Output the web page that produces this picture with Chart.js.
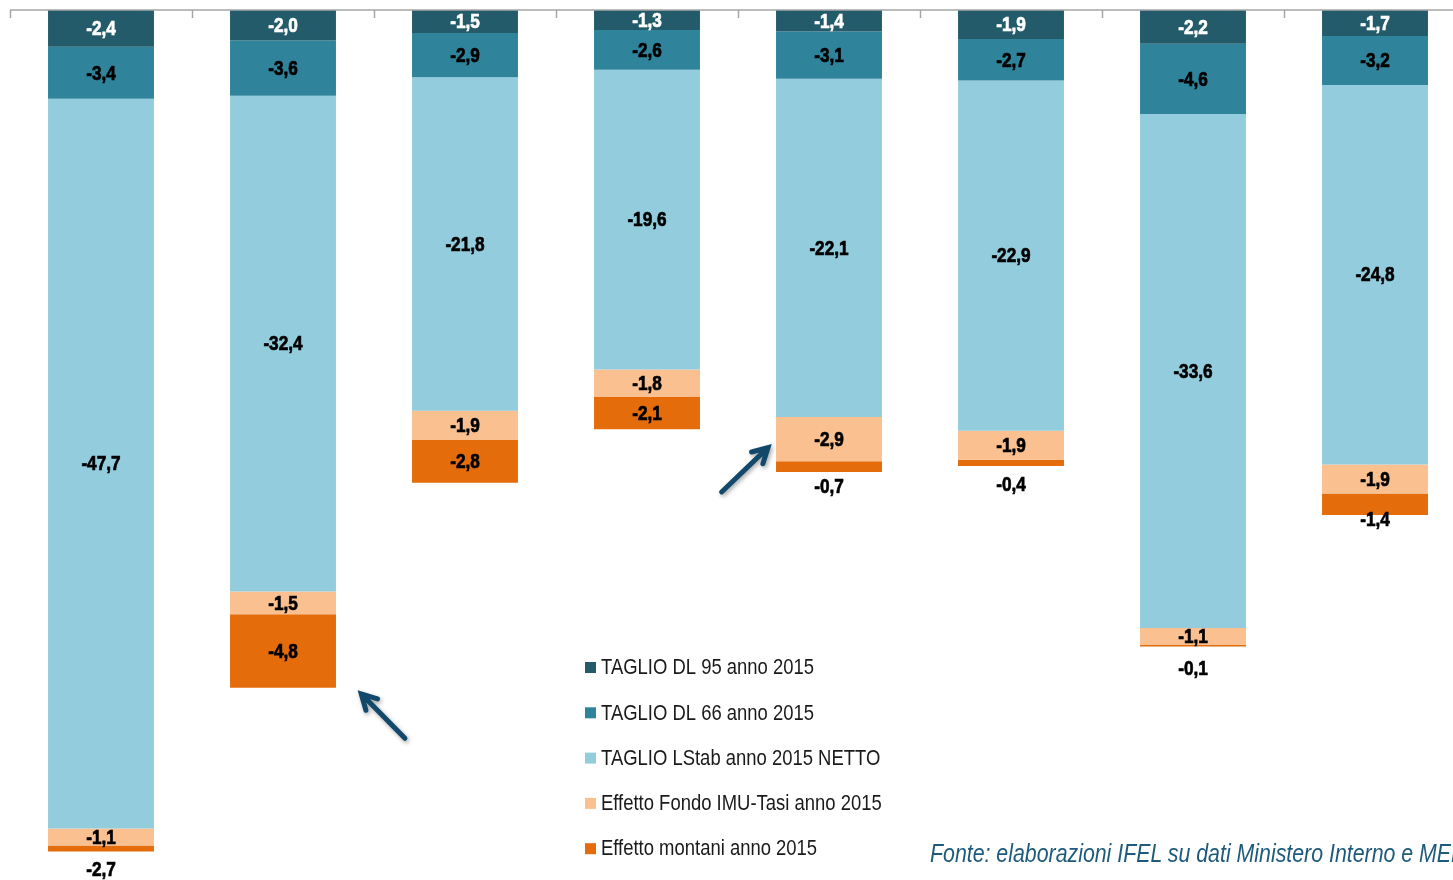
<!DOCTYPE html>
<html>
<head>
<meta charset="utf-8">
<script src="https://cdn.jsdelivr.net/npm/chart.js@4.4.1/dist/chart.umd.min.js"></script>
<style>
  html, body { margin: 0; padding: 0; background: #fff; overflow: hidden; width: 1453px; height: 880px; }
  #wrap { position: absolute; left: 0; top: 0; width: 1480px; height: 880px; }
  #src { position: absolute; left: 930px; top: 838px; white-space: nowrap;
         font-family: 'Liberation Sans', Arial, sans-serif;
         font-style: italic; font-size: 26px; color: #1d5a7c;
         transform: scaleX(0.82); transform-origin: 0 0; }
</style>
</head>
<body>
<div id="wrap"><canvas id="c" width="1480" height="880"></canvas></div>
<div id="src">Fonte: elaborazioni IFEL su dati Ministero Interno e MEF</div>
<script>
// ---- data ----
const categories = ['Classe 1', 'Classe 2', 'Classe 3', 'Classe 4', 'Classe 5', 'Classe 6', 'Classe 7', 'Classe 8'];
const seriesNames = ['TAGLIO DL 95 anno 2015', 'TAGLIO DL 66 anno 2015', 'TAGLIO LStab anno 2015 NETTO', 'Effetto Fondo IMU-Tasi anno 2015', 'Effetto montani anno 2015'];
const taglioDL95   = [-2.4, -2.0, -1.5, -1.3, -1.4, -1.9, -2.2, -1.7];
const taglioDL66   = [-3.4, -3.6, -2.9, -2.6, -3.1, -2.7, -4.6, -3.2];
const taglioLStab  = [-47.7, -32.4, -21.8, -19.6, -22.1, -22.9, -33.6, -24.8];
const fondoImuTasi = [-1.1, -1.5, -1.9, -1.8, -2.9, -1.9, -1.1, -1.9];
const montani      = [-2.7, -4.8, -2.8, -2.1, -0.7, -0.4, -0.1, -1.4];

// ---- style ----
const colors = ['#235b6b', '#2f849c', '#93cddd', '#fac090', '#e46c0a'];
const labelColors = ['#ffffff', '#000000', '#000000', '#000000', '#000000'];
// label offset below bar bottom for the last series (null = centered in segment)
const lastLabelBelow = [18, null, null, null, 14, 18, 22, 4];
const FONT = "'Liberation Sans', Arial, sans-serif";
const NARROW = 0.82;

const fmt = v => v.toFixed(1).replace('.', ',');

function narrowText(ctx, text, x, y, bold) {
  ctx.save();
  ctx.translate(x, y);
  ctx.scale(NARROW, 1);
  ctx.fillText(text, 0, 0);
  if (bold) {
    ctx.strokeStyle = ctx.fillStyle;
    ctx.lineWidth = 0.7;
    ctx.strokeText(text, 0, 0);
  }
  ctx.restore();
}

const topAxisPlugin = {
  id: 'topAxis',
  afterDatasetsDraw(chart) {
    const ctx = chart.ctx, x = chart.scales.x, y = chart.scales.y;
    const y0 = y.getPixelForValue(0);
    const cw = (x.getPixelForValue(1) - x.getPixelForValue(0));
    ctx.save();
    ctx.strokeStyle = '#a6a6a6';
    ctx.lineWidth = 1.5;
    ctx.beginPath();
    ctx.moveTo(chart.chartArea.left, y0);
    ctx.lineTo(chart.chartArea.right, y0);
    for (let i = 0; i <= categories.length; i++) {
      const px = Math.round(x.getPixelForValue(0) - cw / 2 + i * cw) + 0.5;
      ctx.moveTo(px, y0);
      ctx.lineTo(px, y0 + 8);
    }
    ctx.stroke();
    ctx.restore();
  }
};

const labelPlugin = {
  id: 'segLabels',
  afterDatasetsDraw(chart) {
    const ctx = chart.ctx;
    const area = chart.chartArea;
    const last = chart.data.datasets.length - 1;
    ctx.save();
    ctx.font = 'bold 21px ' + FONT;
    ctx.textAlign = 'center';
    ctx.textBaseline = 'middle';
    chart.data.datasets.forEach((ds, di) => {
      const meta = chart.getDatasetMeta(di);
      meta.data.forEach((bar, i) => {
        const v = ds.data[i];
        const top = Math.max(Math.min(bar.y, bar.base), area.top);
        const bottom = Math.min(Math.max(bar.y, bar.base), area.bottom);
        let ly = (top + bottom) / 2;
        let col = labelColors[di];
        if (di === last && lastLabelBelow[i] !== null) { ly = bottom + lastLabelBelow[i]; col = '#000000'; }
        ctx.fillStyle = col;
        narrowText(ctx, fmt(v), bar.x, ly + 1, true);
      });
    });
    ctx.restore();
  }
};

const legendPlugin = {
  id: 'customLegend',
  afterDraw(chart) {
    const ctx = chart.ctx;
    ctx.save();
    ctx.font = '22.5px ' + FONT;
    ctx.textBaseline = 'middle';
    ctx.textAlign = 'left';
    chart.data.datasets.forEach((ds, i) => {
      const yc = 667 + i * 45.3;
      ctx.fillStyle = ds.backgroundColor;
      ctx.fillRect(585, yc - 5, 11, 11);
      ctx.fillStyle = '#1a1a1a';
      narrowText(ctx, ds.label, 601, yc + 1, false);
    });
    ctx.restore();
  }
};

function drawArrow(ctx, x1, y1, x2, y2) {
  const ang = Math.atan2(y2 - y1, x2 - x1);
  const head = 17, spread = 0.5;
  ctx.beginPath();
  ctx.moveTo(x1, y1);
  ctx.lineTo(x2 - Math.cos(ang) * 3, y2 - Math.sin(ang) * 3);
  ctx.moveTo(x2 - head * Math.cos(ang - spread), y2 - head * Math.sin(ang - spread));
  ctx.lineTo(x2, y2);
  ctx.lineTo(x2 - head * Math.cos(ang + spread), y2 - head * Math.sin(ang + spread));
  ctx.stroke();
}

const arrowPlugin = {
  id: 'arrows',
  afterDraw(chart) {
    const ctx = chart.ctx, x = chart.scales.x, y = chart.scales.y;
    // arrows given in data coordinates: [fromIndex, fromValue, toIndex, toValue]
    const arrows = [
      [1.67, -47.6, 1.43, -44.7],
      [3.41, -31.5, 3.665, -28.6]
    ];
    ctx.save();
    ctx.strokeStyle = '#12496b';
    ctx.lineWidth = 5;
    ctx.lineCap = 'round';
    ctx.lineJoin = 'miter';
    ctx.shadowColor = 'rgba(0,0,0,0.35)';
    ctx.shadowBlur = 4;
    ctx.shadowOffsetX = 1.5;
    ctx.shadowOffsetY = 2;
    arrows.forEach(a => {
      drawArrow(ctx, x.getPixelForValue(a[0]), y.getPixelForValue(a[1]),
                     x.getPixelForValue(a[2]), y.getPixelForValue(a[3]));
    });
    ctx.restore();
  }
};

const seriesData = [taglioDL95, taglioDL66, taglioLStab, fondoImuTasi, montani];

new Chart(document.getElementById('c'), {
  type: 'bar',
  data: {
    labels: categories,
    datasets: seriesData.map((d, i) => ({
      label: seriesNames[i],
      data: d,
      backgroundColor: colors[i],
      borderWidth: 0,
      categoryPercentage: 1,
      barPercentage: 0.582,
      stack: 's'
    }))
  },
  options: {
    responsive: false,
    animation: false,
    layout: { padding: { left: 10, top: 10, right: 14, bottom: 28.5 } },
    plugins: { legend: { display: false }, tooltip: { enabled: false } },
    scales: {
      x: { stacked: true, display: false },
      y: { stacked: true, display: false, min: -55, max: 0 }
    }
  },
  plugins: [topAxisPlugin, labelPlugin, legendPlugin, arrowPlugin]
});
</script>
</body>
</html>
